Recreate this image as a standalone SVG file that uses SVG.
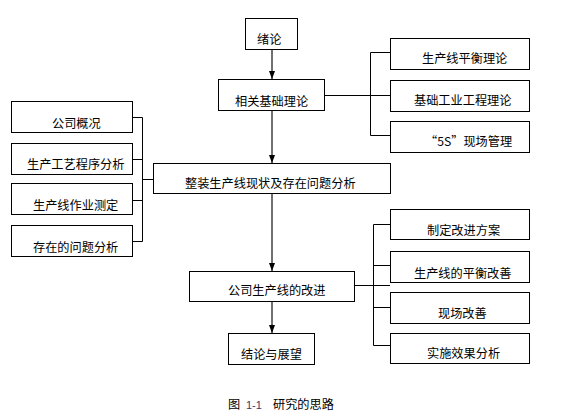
<svg xmlns="http://www.w3.org/2000/svg" width="577" height="419" viewBox="0 0 577 419">
<style>
.box{fill:#fff;stroke:#000;stroke-width:1}
.t{font-family:"Noto Sans CJK SC","Noto Sans",sans-serif;font-size:12.2px;fill:#000}
.ln{fill:none;stroke:#000;stroke-width:1}
.ar{fill:none;stroke:#707070;stroke-width:2}
</style>
<defs>
<marker id="ah" viewBox="0 0 8 6" refX="8" refY="3" markerWidth="8" markerHeight="6" markerUnits="userSpaceOnUse" orient="auto">
<path d="M0,0 L8,3 L0,6 Z" fill="#000"/>
</marker>
</defs>
<rect width="577" height="419" fill="#fff"/>
<g id="connectors">
<path class="ar" d="M272,49 V79" marker-end="url(#ah)"/>
<path class="ar" d="M272,110 V163" marker-end="url(#ah)"/>
<path class="ar" d="M272,193 V271" marker-end="url(#ah)"/>
<path class="ar" d="M272,301 V333" marker-end="url(#ah)"/>
<path class="ln" d="M324,95.5 H390 M370.5,52.5 V135.5 M370.5,52.5 H390 M370.5,135.5 H390"/>
<path class="ln" d="M132,117.5 H142.5 M132,159.5 H142.5 M132,200.5 H142.5 M132,241.5 H142.5 M142.5,117.5 V241.5 M142.5,179.5 H153"/>
<path class="ln" d="M354,285.5 H390 M373.5,224.5 V345.5 M373.5,224.5 H390 M373.5,265.5 H390 M373.5,307.5 H390 M373.5,345.5 H390"/>
</g>
<g id="n1"><rect class="box" x="245.5" y="18.5" width="52" height="31"/><text class="t" x="257" y="44">绪论</text></g>
<g id="n2"><rect class="box" x="218.5" y="79.5" width="106" height="31"/><text class="t" x="235" y="106">相关基础理论</text></g>
<g id="n3"><rect class="box" x="390.5" y="38.5" width="139" height="31"/><text class="t" x="422" y="63">生产线平衡理论</text></g>
<g id="n4"><rect class="box" x="390.5" y="80.5" width="139" height="31"/><text class="t" x="414" y="105">基础工业工程理论</text></g>
<g id="n5"><rect class="box" x="390.5" y="121.5" width="139" height="31"/><text class="t" x="425" y="146">“5S”现场管理</text></g>
<g id="n6"><rect class="box" x="11.5" y="101.5" width="121" height="31"/><text class="t" x="52" y="128">公司概况</text></g>
<g id="n7"><rect class="box" x="11.5" y="143.5" width="121" height="31"/><text class="t" x="27" y="169">生产工艺程序分析</text></g>
<g id="n8"><rect class="box" x="11.5" y="183.5" width="121" height="31"/><text class="t" x="33" y="210">生产线作业测定</text></g>
<g id="n9"><rect class="box" x="11.5" y="225.5" width="121" height="31"/><text class="t" x="33" y="252">存在的问题分析</text></g>
<g id="n10"><rect class="box" x="153.5" y="163.5" width="237" height="30"/><text class="t" x="185" y="188">整装生产线现状及存在问题分析</text></g>
<g id="n11"><rect class="box" x="189.5" y="271.5" width="165" height="30"/><text class="t" x="228" y="295">公司生产线的改进</text></g>
<g id="n12"><rect class="box" x="390.5" y="209.5" width="139" height="30"/><text class="t" x="427" y="235">制定改进方案</text></g>
<g id="n13"><rect class="box" x="390.5" y="251.5" width="139" height="31"/><text class="t" x="414" y="278">生产线的平衡改善</text></g>
<g id="n14"><rect class="box" x="390.5" y="292.5" width="139" height="31"/><text class="t" x="438" y="318">现场改善</text></g>
<g id="n15"><rect class="box" x="390.5" y="333.5" width="139" height="30"/><text class="t" x="427" y="358">实施效果分析</text></g>
<g id="n16"><rect class="box" x="228.5" y="333.5" width="86" height="31"/><text class="t" x="241" y="359">结论与展望</text></g>
<g id="caption">
<text class="t" x="228" y="409">图</text>
<text x="246" y="409" style="font-family:'Liberation Sans',sans-serif;font-size:11px;fill:#3a3a6a">1-1</text>
<text class="t" x="273" y="409">研究的思路</text>
</g>
</svg>
